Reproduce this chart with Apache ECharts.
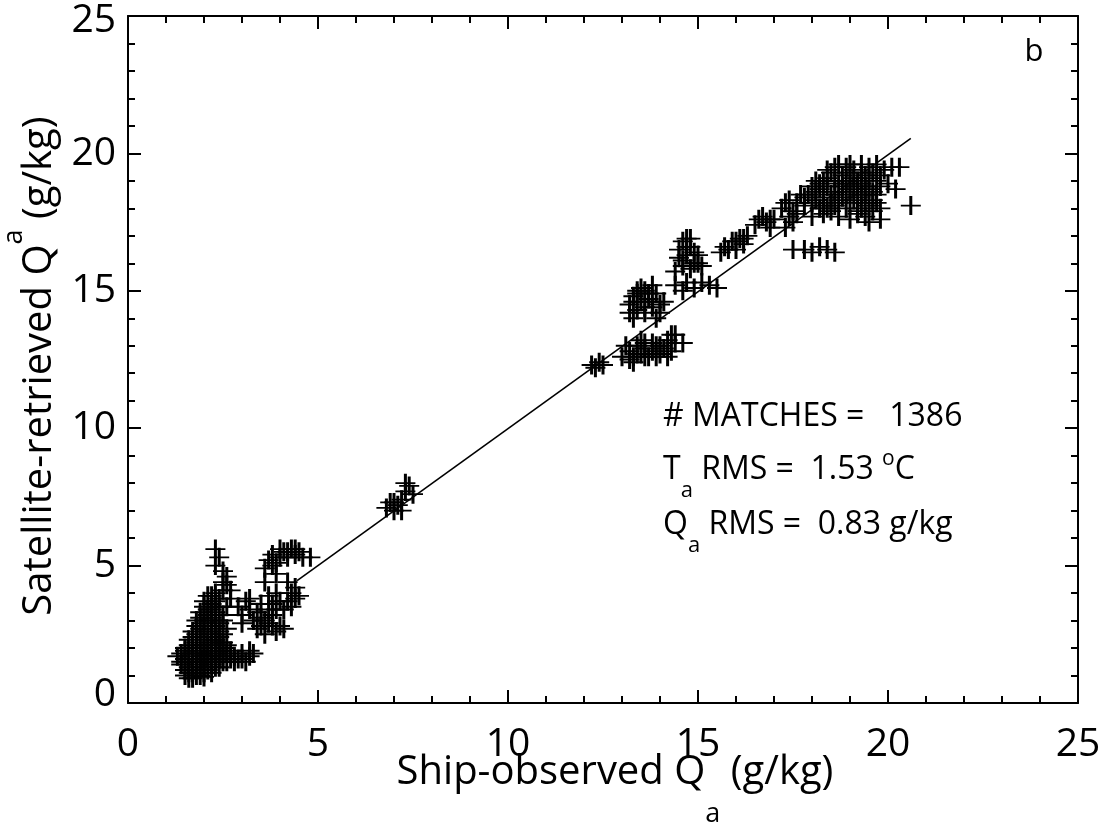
<!DOCTYPE html>
<html><head><meta charset="utf-8">
<script src="https://cdn.jsdelivr.net/npm/echarts@6/dist/echarts.min.js"></script>
<style>html,body{margin:0;padding:0;background:#fff}#c{width:1104px;height:822px}</style>
</head><body><div id="c"></div>
<script>
// ---- data (Ship-observed Qa, Satellite-retrieved Qa) in g/kg ----
const axisTicks = [0, 5, 10, 15, 20, 25];
const lowBlob = [
 [1.6,0.9],[1.8,1.0],[2.0,1.1],[1.5,1.2],[1.7,1.2],[1.9,1.3],[2.1,1.2],[2.3,1.3],
 [1.4,1.5],[1.6,1.5],[1.8,1.6],[2.0,1.5],[2.2,1.5],[2.4,1.6],[2.6,1.5],
 [1.4,1.8],[1.6,1.7],[1.9,1.8],[2.1,1.7],[2.3,1.8],[2.5,1.7],[2.8,1.7],[3.0,1.8],[3.2,1.7],
 [1.5,2.0],[1.7,2.0],[2.0,2.1],[2.2,1.9],[2.4,2.0],[2.7,1.9],[2.9,1.6],[3.1,1.5],[3.3,1.8],
 [1.6,2.3],[1.8,2.2],[2.0,2.4],[2.3,2.3],[2.5,2.2],
 [1.7,2.6],[1.9,2.7],[2.1,2.6],[2.3,2.8],[2.5,2.5],
 [1.8,3.0],[2.0,3.0],[2.2,3.1],[2.4,2.9],
 [1.9,3.3],[2.1,3.4],[2.3,3.3],[2.5,3.2],
 [2.0,3.7],[2.2,3.6],[2.4,3.8],[2.6,3.5],
 [2.3,4.0],[2.5,4.1]
];
const lowBlobDense = [
 [1.5,1.0],[1.7,0.9],[1.9,1.0],[2.2,1.1],[1.6,1.3],[1.8,1.4],[2.0,1.3],[2.2,1.4],[2.4,1.3],
 [1.5,1.6],[1.7,1.5],[1.9,1.6],[2.1,1.6],[2.3,1.5],[2.5,1.5],[2.7,1.6],[1.5,1.9],[1.8,1.9],
 [2.0,1.8],[2.2,1.7],[2.6,1.8],[1.6,2.1],[1.9,2.1],[2.1,2.0],[2.3,2.1],[2.5,2.0],[1.7,2.4],
 [1.9,2.4],[2.2,2.5],[2.4,2.4],[1.8,2.8],[2.0,2.7],[2.2,2.8],[2.4,2.6],[1.9,3.1],[2.1,3.2],
 [2.3,3.0],[2.0,3.5],[2.2,3.4],[2.4,3.5],[2.1,3.9],[2.3,3.7],[1.7,1.1],[2.0,0.95],[1.4,1.4],[1.3,1.7],
 [1.6,1.1],[1.8,1.2],[2.0,1.7],[2.2,2.2],[2.4,2.2],[2.6,2.1],[1.8,2.5],[2.0,2.9],[2.2,3.0],[1.7,1.8],
 [2.4,1.9],[2.8,1.5],[3.0,1.6],[3.2,1.9],[2.1,2.3],[1.9,1.5],[2.6,2.7],[2.5,3.0],[2.3,3.5],[2.2,3.9]
];
const lowStreak = [[2.3,5.6],[2.4,5.3],[2.3,5.0],[2.5,4.8],[2.6,4.6],[2.6,4.3],[2.7,4.1],[2.5,4.4],[2.7,3.8]];
const lowMid = [
 [2.9,3.5],[3.1,3.7],[3.2,3.4],[3.0,2.9],[3.3,3.0],[3.4,2.7],[3.5,3.1],[3.6,2.5],[3.7,2.9],
 [3.8,3.2],[3.9,2.6],[4.0,2.8],[3.5,3.6],[3.7,3.9],[3.8,3.6],[3.6,4.4],[3.9,4.0],
 [4.1,3.4],[4.2,3.7],[4.3,4.0],[4.4,4.2],[4.2,4.4],[4.5,3.9],[4.3,3.5],[4.4,3.8],
 [3.0,3.2],[3.2,3.8],[3.4,3.3],[3.6,3.0],[3.8,2.8],[3.5,2.8],[3.9,3.4],[4.0,3.7],[4.1,2.7],[3.7,3.4]
];
const lowUpper = [[3.6,4.9],[3.8,5.0],[3.8,5.4],[4.0,5.3],[4.1,5.5],[4.3,5.6],[4.4,5.4],[4.5,5.5],[4.2,5.3],
 [4.6,5.3],[3.9,4.7],[4.8,5.3],[3.7,5.2],[4.0,5.6],[4.2,5.5],[4.4,5.6],[3.9,5.1]];
const mid7 = [[6.8,7.1],[6.9,7.3],[7.0,7.0],[7.1,7.2],[7.2,7.4],[7.3,7.7],[7.3,8.0],[7.4,7.9],[7.5,7.6],[7.2,7.0],[7.0,7.3]];
const mid12 = [[12.2,12.3],[12.3,12.2],[12.4,12.4],[12.5,12.3]];
const below13 = [
 [13.0,12.6],[13.2,12.8],[13.3,12.6],[13.4,13.0],[13.5,12.7],[13.6,12.9],[13.7,12.6],[13.8,12.8],
 [13.9,13.0],[14.0,12.7],[14.1,12.9],[14.2,13.2],[14.3,13.4],[14.4,13.1],[14.2,12.6],[13.1,13.0],
 [13.5,13.2],[13.3,12.4],[14.6,13.1],
 [13.2,12.5],[13.4,12.7],[13.6,12.6],[13.8,13.1],[14.0,13.0],[13.9,12.6],[13.6,13.1],[14.3,12.8],[14.4,13.4]
];
const above13 = [
 [13.2,14.5],[13.3,14.8],[13.4,14.3],[13.5,14.6],[13.6,15.0],[13.7,14.7],[13.8,14.4],[13.9,14.9],
 [14.0,14.2],[13.5,15.1],[13.8,15.2],[14.1,14.6],[13.3,14.0],[13.9,14.0],
 [13.3,14.6],[13.4,14.9],[13.6,14.4],[13.7,14.9],[13.8,14.6],[14.0,14.5],[13.6,14.2],[13.4,15.0],[13.2,14.2]
];
const strip15 = [[14.4,15.2],[14.7,15.3],[14.9,15.1],[15.1,15.3],[15.3,15.2],[15.5,15.1],[14.6,15.0]];
const group15 = [[14.5,16.5],[14.6,16.8],[14.7,16.3],[14.8,16.6],[14.9,16.0],[15.0,16.3],[14.6,15.9],[14.4,15.7],
 [14.8,15.8],[15.1,15.9],[14.7,16.9],[14.5,16.2],[14.7,16.6],[14.9,16.4],[14.6,16.1],[14.8,16.9],[15.0,16.0]];
const group16 = [[15.7,16.6],[15.9,16.8],[16.0,16.5],[16.1,16.9],[16.2,16.7],[16.3,17.0],[15.6,16.4],
 [15.8,16.5],[16.0,16.8],[16.2,16.9]];
const group17 = [[16.5,17.4],[16.6,17.6],[16.8,17.5],[16.9,17.3],[17.0,17.6],[16.7,17.7],
 [17.2,18.0],[17.4,18.3],[17.5,17.9],[17.6,18.2],[17.7,18.5],[17.8,18.1],[17.3,18.2],[17.3,17.3],[17.5,17.5],
 [17.6,17.8],[17.8,18.4],[17.4,17.7],[16.9,17.6]];
const top19 = [
 [18.0,18.2],[18.1,18.6],[18.2,18.9],[18.2,18.0],[18.3,18.4],[18.4,18.8],[18.4,19.1],[18.5,18.2],
 [18.6,18.6],[18.6,19.0],[18.7,18.3],[18.8,18.8],[18.8,19.2],[18.9,18.0],[18.9,18.5],[19.0,18.9],
 [19.0,19.3],[19.1,18.3],[19.1,18.7],[19.2,19.0],[19.3,18.5],[19.3,19.3],[19.4,18.2],[19.4,18.8],
 [19.5,19.1],[19.6,18.6],[19.6,18.3],[19.7,19.0],[18.3,17.8],[18.5,17.9],[18.7,17.7],[17.9,18.5],
 [18.1,19.0],[18.9,19.5],[19.2,17.9],[18.0,17.7],
 [18.6,19.5],[19.1,19.4],[19.3,19.6],[19.5,19.5],[19.7,19.6],[19.9,19.4],[20.1,19.5],[20.3,19.5],
 [19.8,18.8],[20.0,18.9],[20.2,18.7],[20.6,18.1],
 [19.0,17.6],[19.2,17.8],[19.4,17.7],[19.6,17.9],[19.8,17.6],[19.5,17.5]
];
const top19Dense = [
 [18.1,18.3],[18.2,18.7],[18.3,19.0],[18.4,18.0],[18.5,18.5],[18.5,19.3],[18.6,18.1],[18.7,18.9],
 [18.8,18.4],[18.9,19.0],[19.0,18.2],[19.0,18.6],[19.1,19.1],[19.2,18.4],[19.2,18.8],[19.3,18.0],
 [19.3,18.9],[19.4,19.2],[19.4,18.5],[19.5,18.7],[19.5,18.1],[19.6,19.3],[19.7,18.5],[19.7,18.2],
 [18.3,18.1],[18.0,18.8],[18.4,19.4],[18.7,19.6],[19.0,19.6],[19.8,19.2],[19.8,18.0]
];
const low165 = [[17.5,16.5],[17.8,16.5],[18.0,16.4],[18.2,16.6],[18.4,16.5],[18.6,16.4]];
const fitLine = [[4.45,4.45],[20.6,20.55]];
const statsLines = ['# MATCHES =   1386', 'RMS =  1.53 ', 'RMS =  0.83 g/kg'];

const points = [].concat(lowBlob, lowBlobDense, lowStreak, lowMid, lowUpper, mid7, mid12, below13, above13,
  strip15, group15, group16, group17, top19, top19Dense, low165);

const FONT = "'Open Sans', 'Noto Sans', sans-serif";
const PLUS = 'path://M8.5,0 H11.5 V9 H20 V11 H11.5 V20 H8.5 V11 H0 V9 H8.5 Z';
const axMin = axisTicks[0], axMax = axisTicks[axisTicks.length - 1], axStep = axisTicks[1] - axisTicks[0];

function axisCommon(showLabel, pos) {
  return {
    type: 'value', min: axMin, max: axMax, interval: axStep, position: pos,
    axisLine: { show: true, onZero: false, lineStyle: { color: '#000', width: 2 } },
    axisTick: { show: true, inside: true, length: 13, lineStyle: { color: '#000', width: 2 } },
    minorTick: { show: true, splitNumber: 5, length: 7, lineStyle: { color: '#000', width: 2 } },
    splitLine: { show: false }, minorSplitLine: { show: false },
    axisLabel: { show: showLabel }
  };
}
const xBottom = axisCommon(true, 'bottom');
xBottom.axisLabel = { show: true, margin: 22, color: '#000', fontFamily: FONT, fontSize: 39 };
const xTop = axisCommon(false, 'top');
const yLeft = axisCommon(true, 'left');
yLeft.axisLabel = {
  show: true, margin: 12, color: '#000', fontFamily: FONT, fontSize: 39,
  formatter: v => v === axMin ? '{lo|' + v + '}' : (v === axMax ? '{hi|' + v + '}' : '{n|' + v + '}'),
  rich: {
    n: { fontFamily: FONT, fontSize: 39, color: '#000' },
    lo: { fontFamily: FONT, fontSize: 39, color: '#000', padding: [0, 0, 16, 0] },
    hi: { fontFamily: FONT, fontSize: 39, color: '#000', padding: [10, 0, 0, 0] }
  }
};
const yRight = axisCommon(false, 'right');

const chart = echarts.init(document.getElementById('c'), null, { renderer: 'canvas' });
const txt = (size) => ({ fontFamily: FONT, fontSize: size, color: '#000', verticalAlign: 'middle' });
chart.setOption({
  animation: false,
  backgroundColor: '#fff',
  grid: { left: 128, right: 26, top: 16, bottom: 119, containLabel: false },
  xAxis: [xBottom, xTop],
  yAxis: [yLeft, yRight],
  series: [
    { type: 'scatter', xAxisIndex: 0, yAxisIndex: 0, data: points, symbol: PLUS, symbolSize: [20, 19],
      itemStyle: { color: '#000', opacity: 1 }, silent: true },
    { type: 'line', xAxisIndex: 0, yAxisIndex: 0, data: fitLine, symbol: 'none',
      lineStyle: { color: '#000', width: 1.6 }, silent: true, z: 3 }
  ],
  graphic: [
    { type: 'text', x: 615, y: 773, style: {
        text: '{n|Ship-observed Q}{s|a}{n| (g/kg)}', align: 'center', verticalAlign: 'middle',
        rich: { n: txt(40), s: Object.assign(txt(27), { padding: [82, 0, 0, 0] }) } } },
    { type: 'text', x: 40, y: 366, rotation: Math.PI / 2, style: {
        text: '{n|Satellite-retrieved Q}{s|a}{n| (g/kg)}', align: 'center', verticalAlign: 'middle',
        rich: { n: txt(40), s: Object.assign(txt(27), { padding: [0, 0, 52, 0] }) } } },
    { type: 'text', x: 1034, y: 52, style: { text: 'b', align: 'center', verticalAlign: 'middle',
        fontFamily: FONT, fontSize: 31, fill: '#000' } },
    { type: 'text', x: 663, y: 417, style: { text: '{n|' + statsLines[0] + '}', align: 'left', verticalAlign: 'middle',
        rich: { n: txt(32) } } },
    { type: 'text', x: 663, y: 470, style: {
        text: '{n|T}{s|a}{n| ' + statsLines[1] + '}{o|o}{n|C}', align: 'left', verticalAlign: 'middle',
        rich: { n: txt(32), s: Object.assign(txt(22), { padding: [42, 0, 0, 0] }),
                o: Object.assign(txt(21), { padding: [0, 0, 22, 0] }) } } },
    { type: 'text', x: 663, y: 525, style: {
        text: '{n|Q}{s|a}{n| ' + statsLines[2] + '}', align: 'left', verticalAlign: 'middle',
        rich: { n: txt(32), s: Object.assign(txt(22), { padding: [42, 0, 0, 0] }) } } }
  ]
});
</script></body></html>
